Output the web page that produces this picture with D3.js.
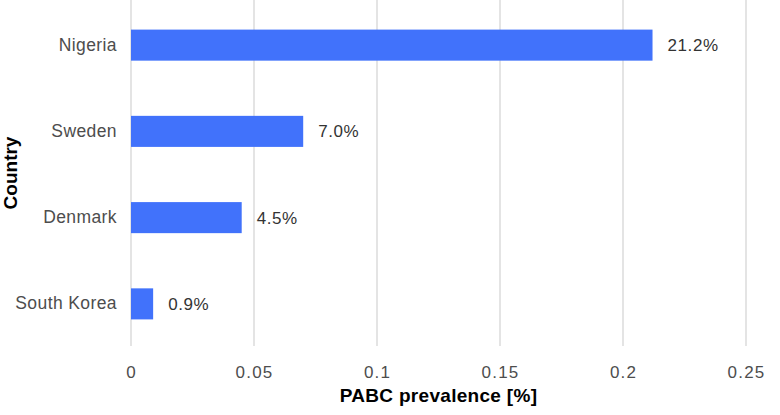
<!DOCTYPE html>
<html>
<head>
<meta charset="utf-8">
<script src="https://cdn.jsdelivr.net/npm/d3@7"></script>
<style>
	body { margin: 0; background: #fff; }
	svg { display: block; font-family: 'Liberation Sans', Arial, sans-serif; }
</style>
</head>
<body>
<svg id="chart"></svg>
<script>
// Data
const countries = ['Nigeria', 'Sweden', 'Denmark', 'South Korea'];
const prevalence = [0.212, 0.07, 0.045, 0.009];
const valueLabels = ['21.2%', '7.0%', '4.5%', '0.9%'];
const xTicks = [0, 0.05, 0.1, 0.15, 0.2, 0.25];
const xTickLabels = ['0', '0.05', '0.1', '0.15', '0.2', '0.25'];

const width = 780;
const height = 415;
const margin = { top: 0, right: 34, bottom: 69, left: 131 };
const innerW = width - margin.left - margin.right;
const innerH = height - margin.top - margin.bottom;

const data = countries.map((c, i) => ({
	country: c,
	value: prevalence[i],
	label: valueLabels[i],
}));

const svg = d3.select('#chart').attr('width', width).attr('height', height);

const chart = svg
	.append('g')
	.attr('transform', `translate(${margin.left},${margin.top})`);

const xScale = d3.scaleLinear().domain([0, 0.25]).range([0, innerW]);
const yScale = d3
	.scaleBand()
	.domain(countries)
	.range([2, innerH + 1])
	.paddingInner(0.64)
	.paddingOuter(0.32);

// vertical gridlines
chart
	.selectAll('.grid')
	.data(xTicks)
	.join('line')
	.attr('class', 'grid')
	.attr('x1', (d) => xScale(d))
	.attr('x2', (d) => xScale(d))
	.attr('y1', 0)
	.attr('y2', innerH)
	.attr('stroke', '#dedede')
	.attr('stroke-width', 1.6);

// x axis (tick labels only)
const xAxis = d3
	.axisBottom(xScale)
	.tickValues(xTicks)
	.tickFormat((d, i) => xTickLabels[i])
	.tickSize(0)
	.tickPadding(20);

const xAxisG = chart
	.append('g')
	.attr('transform', `translate(0,${innerH})`)
	.call(xAxis);
xAxisG.select('.domain').remove();
xAxisG
	.selectAll('text')
	.attr('fill', '#4d4d4d')
	.style('font-size', '17px')
	.style('letter-spacing', '1.2px')
	.style('font-family', "'Liberation Sans', Arial, sans-serif");

// y axis (category labels)
const yAxis = d3.axisLeft(yScale).tickSize(0).tickPadding(14);
const yAxisG = chart.append('g').call(yAxis);
yAxisG.select('.domain').remove();
yAxisG
	.selectAll('text')
	.attr('fill', '#4d4d4d')
	.style('font-size', '17.5px')
	.style('letter-spacing', '0.4px')
	.style('font-family', "'Liberation Sans', Arial, sans-serif");

// bars
chart
	.selectAll('.bar')
	.data(data)
	.join('rect')
	.attr('class', 'bar')
	.attr('x', xScale(0))
	.attr('y', (d) => yScale(d.country))
	.attr('width', (d) => xScale(d.value) - xScale(0))
	.attr('height', yScale.bandwidth())
	.attr('fill', '#4172fb');

// value labels
chart
	.selectAll('.value-label')
	.data(data)
	.join('text')
	.attr('class', 'value-label')
	.attr('x', (d) => xScale(d.value) + 15)
	.attr('y', (d) => yScale(d.country) + yScale.bandwidth() / 2)
	.attr('dy', '0.35em')
	.attr('fill', '#333')
	.style('font-size', '17px')
	.style('letter-spacing', '0.6px')
	.text((d) => d.label);

// axis titles
svg
	.append('text')
	.attr('x', margin.left + innerW / 2)
	.attr('y', 402)
	.attr('text-anchor', 'middle')
	.attr('fill', '#000')
	.style('font-size', '19px')
	.style('font-weight', 'bold')
	.style('letter-spacing', '0.3px')
	.text('PABC prevalence [%]');

svg
	.append('text')
	.attr('transform', `translate(17,${margin.top + innerH / 2}) rotate(-90)`)
	.attr('text-anchor', 'middle')
	.attr('fill', '#000')
	.style('font-size', '19px')
	.style('font-weight', 'bold')
	.text('Country');
</script>
</body>
</html>
